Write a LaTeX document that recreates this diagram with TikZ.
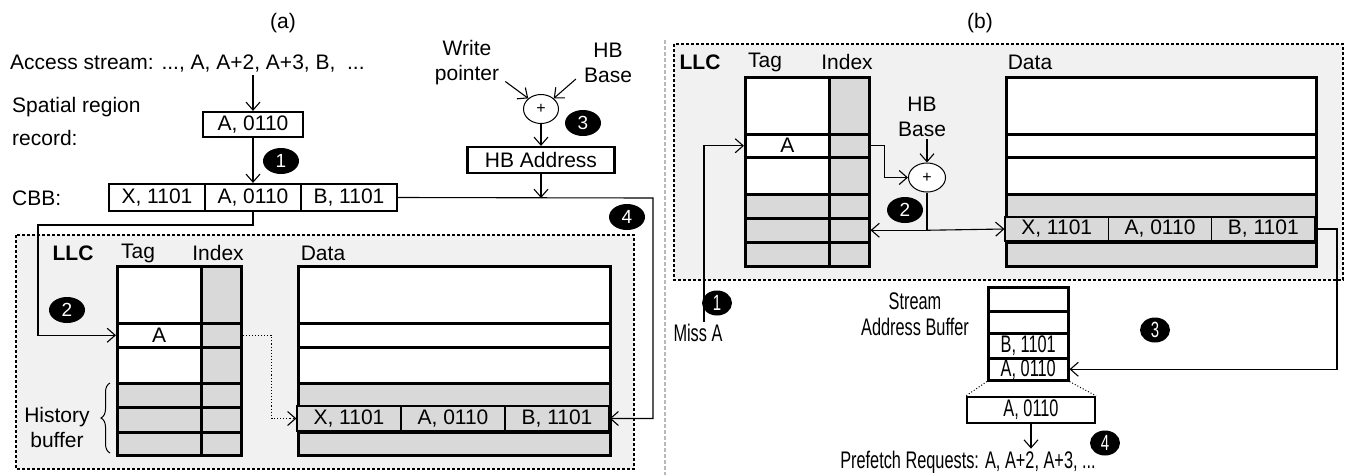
\documentclass[tikz,border=0pt]{standalone}
\usepackage{fontspec}
\setmainfont{Liberation Sans}
\newfontfamily\narrowfont[FakeStretch=0.68]{Liberation Sans}
\usetikzlibrary{arrows.meta,shapes.geometric,decorations.pathreplacing,positioning}
\newcommand{\bigfont}{\fontsize{21}{25}\selectfont}
\definecolor{llcgray}{HTML}{F1F1F1}
\definecolor{cellgray}{HTML}{D9D9D9}
\tikzset{%
	every node/.style={font=\bigfont,inner sep=2pt},
	rec/.style={draw,line width=2.2pt,fill=white,inner sep=0pt},
	row/.style={draw,line width=2.5pt,inner sep=0pt,anchor=north west},
	cell/.style={draw,line width=1.2pt,inner sep=0pt,fill=cellgray,minimum height=25pt},
	num/.style={ellipse,fill=black,text=white,inner sep=0pt,minimum width=36pt,minimum height=26pt,font=\fontsize{19}{20}\selectfont},
	numnarrow/.style={num,minimum width=30pt,minimum height=25pt,font=\narrowfont\fontsize{22}{24}\selectfont},
	plus/.style={ellipse,draw,fill=white,line width=1pt,inner sep=0pt,minimum width=35pt,minimum height=29pt,font=\fontsize{16}{18}\selectfont},
	arr/.style={-{Straight Barb[length=8pt,width=14pt]},line width=1.1pt},
	llc/.style={draw,line width=1.8pt,dash pattern=on 3pt off 2pt,fill=llcgray},
	divider/.style={draw=gray!55,line width=1.5pt,dash pattern=on 4pt off 2pt},
	narrow/.style={font=\narrowfont\fontsize{24}{26}\selectfont},
}

\begin{document}
\begin{tikzpicture}[x=1pt,y=-1pt]
	\useasboundingbox (0,0) rectangle (1346,475);
	
	%(a)
	\node (titleA) at (283,23) {(a)};
	\node[anchor=west] (access) at (8,64) {Access stream: ..., A, A+2, A+3, B,~~...};
	\node[anchor=west,align=left] (srlbl) at (10,121) {Spatial region\\[8pt]record:};
	\node[rec,minimum width=100pt,minimum height=25pt] (sr) at (253,124.5) {A, 0110};
	\node[num] (n1a) at (281,161) {1};
	
	%cbb
	\node[anchor=west] (cbblbl) at (10,198) {CBB:};
	\node[rec,minimum width=96pt,minimum height=27pt] (cbbX) at (157,197.5) {X, 1101};
	\node[rec,minimum width=96pt,minimum height=27pt] (cbbA) at (253,197.5) {A, 0110};
	\node[rec,minimum width=96pt,minimum height=27pt] (cbbB) at (349,197.5) {B, 1101};
	\draw[arr] (sr.north |- access.south) -- (sr.north);
	\draw[arr] (sr.south) -- (cbbA.north);
	
	%hb address
	\node[align=center] (wp) at (467,63) {Write\\pointer};
	\node[align=center] (hbA) at (608,63) {HB\\Base};
	\node[plus] (plusA) at (541,109) {+};
	\node[num] (n3a) at (583,123) {3};
	\node[rec,minimum width=147pt,minimum height=26pt] (hbaddr) at (541,160) {HB Address};
	\node[num] (n4a) at (627,217) {4};
	\draw[arr] ([xshift=4pt,yshift=6pt]wp.south east) -- (plusA.north west);
	\draw[arr] ([xshift=-6pt,yshift=6pt]hbA.south west) -- (plusA.north east);
	\draw[arr] (plusA.south) -- (hbaddr.north);
	
	%llc
	\draw[llc] (16,235) rectangle (634,469);
	\node[font=\bigfont\bfseries] (llcA) at (73,253) {LLC};
	\node (tagA) at (138,253) {Tag};
	\node (indexA) at (218,253) {Index};
	\node (dataA) at (323,253) {Data};
	\foreach \i/\y/\h/\c in {1/265/57/white,2/322/24/white,3/346/36/white,4/382/24/cellgray,5/406/25/cellgray,6/431/23/cellgray}{
		\node[row,fill=\c,minimum width=84pt,minimum height=\h pt] (ta\i) at (116,\y) {};
		\node[row,fill=cellgray,minimum width=40pt,minimum height=\h pt] (ia\i) at (200,\y) {};
		\node[row,fill=\c,minimum width=312pt,minimum height=\h pt] (da\i) at (297,\y) {};
	}
	\node (entryA) at (ta2) {A};
	\node[cell,minimum width=104pt] (dX) at (349,418.5) {X, 1101};
	\node[cell,minimum width=104pt] (dA) at (453,418.5) {A, 0110};
	\node[cell,minimum width=104pt] (dB) at (557,418.5) {B, 1101};
	\node[num] (n2a) at (67,310) {2};
	
	%history buffer
	\draw[decorate,decoration={brace,amplitude=9pt},line width=1pt] (110,453) -- (110,383);
	\node[align=center] (hist) at (57,427) {History\\buffer};
	
	%connectors
	\coordinate (turnA) at (38,225);
	\coordinate (turnB) at (653,198);
	\draw[arr] (cbbA.south) |- (turnA) |- (ta2.west);
	\draw[arr,dotted] (ia2.east) -- ++(29,0) |- (dX.west);
	\draw[arr] (cbbB.east) -- (turnB) |- (dB.east);
	\draw[arr] (hbaddr.south) -- (hbaddr.south |- turnB);
	
	\draw[divider] (665,40) -- (665,475);
	
	%(b)
	\node (titleB) at (980,23) {(b)};
	\draw[llc] (674,44) rectangle (1343,280);
	\node[font=\bigfont\bfseries] (llcB) at (700,62) {LLC};
	\node (tagB) at (765,62) {Tag};
	\node (indexB) at (847,62) {Index};
	\node (dataB) at (1030,62) {Data};
	\foreach \i/\y/\h/\c in {1/76/57/white,2/133/23/white,3/156/37/white,4/193/24/cellgray,5/217/24/cellgray,6/241/24/cellgray}{
		\node[row,fill=\c,minimum width=84pt,minimum height=\h pt] (tb\i) at (744,\y) {};
		\node[row,fill=cellgray,minimum width=40pt,minimum height=\h pt] (ib\i) at (828,\y) {};
		\node[row,fill=\c,minimum width=310pt,minimum height=\h pt] (db\i) at (1005,\y) {};
	}
	\node (entryB) at (tb2) {A};
	\node[cell,minimum width=103.3pt,minimum height=24pt] (dbX) at (1056.7,229) {X, 1101};
	\node[cell,minimum width=103.3pt,minimum height=24pt] (dbA) at (1160,229) {A, 0110};
	\node[cell,minimum width=103.3pt,minimum height=24pt] (dbB) at (1263.3,229) {B, 1101};
	
	\node[align=center] (hbB) at (922,116.5) {HB\\Base};
	\node[plus,minimum width=37pt] (plusB) at (927,177.5) {+};
	\node[num] (n2b) at (905,210) {2};
	\draw[arr] (plusB.north |- hbB.south) -- (plusB.north);
	\draw[arr] (ib2.east) -- ++(14,0) |- (plusB.west);
	\coordinate (splitB) at (plusB.south |- ib5.east);
	\draw[line width=1.1pt] (plusB.south) -- (splitB);
	\draw[arr] (splitB) -- (ib5.east);
	\draw[arr] (splitB) -- (dbX.west);
	
	%miss
	\node[narrow] (missA) at (698,333) {Miss A};
	\node[numnarrow] (n1b) at (717,303) {1};
	\draw[arr] ([xshift=6pt]missA.north) |- (tb2.west);
	
	%stream address buffer
	\node[narrow,align=center] (sablbl) at (915,314) {Stream\\Address Buffer};
	\foreach \i/\y/\h/\t in {1/286/24/{},2/310/22/{},3/332/25/{B, 1101},4/357/22/{A, 0110}}{
		\node[row,narrow,fill=white,minimum width=80pt,minimum height=\h pt] (sab\i) at (987,\y) {\t};
	}
	\node[numnarrow] (n3b) at (1155,330) {3};
	\coordinate (turnC) at (1337,229);
	\draw[arr] (dbB.east) -- (turnC) |- (sab4.east);
	
	%prefetch
	\node[rec,narrow,minimum width=128pt,minimum height=26pt] (pfbox) at (1031,410) {A, 0110};
	\draw[dotted,line width=1pt] (sab4.south west) -- (pfbox.north west);
	\draw[dotted,line width=1pt] (sab4.south east) -- (pfbox.north east);
	\node[narrow] (pfreq) at (968,462) {Prefetch Requests: A, A+2, A+3, ...};
	\node[numnarrow] (n4b) at (1105,443) {4};
	\draw[arr] (pfbox.south) -- (pfbox.south |- pfreq.north);
\end{tikzpicture}
\end{document}
